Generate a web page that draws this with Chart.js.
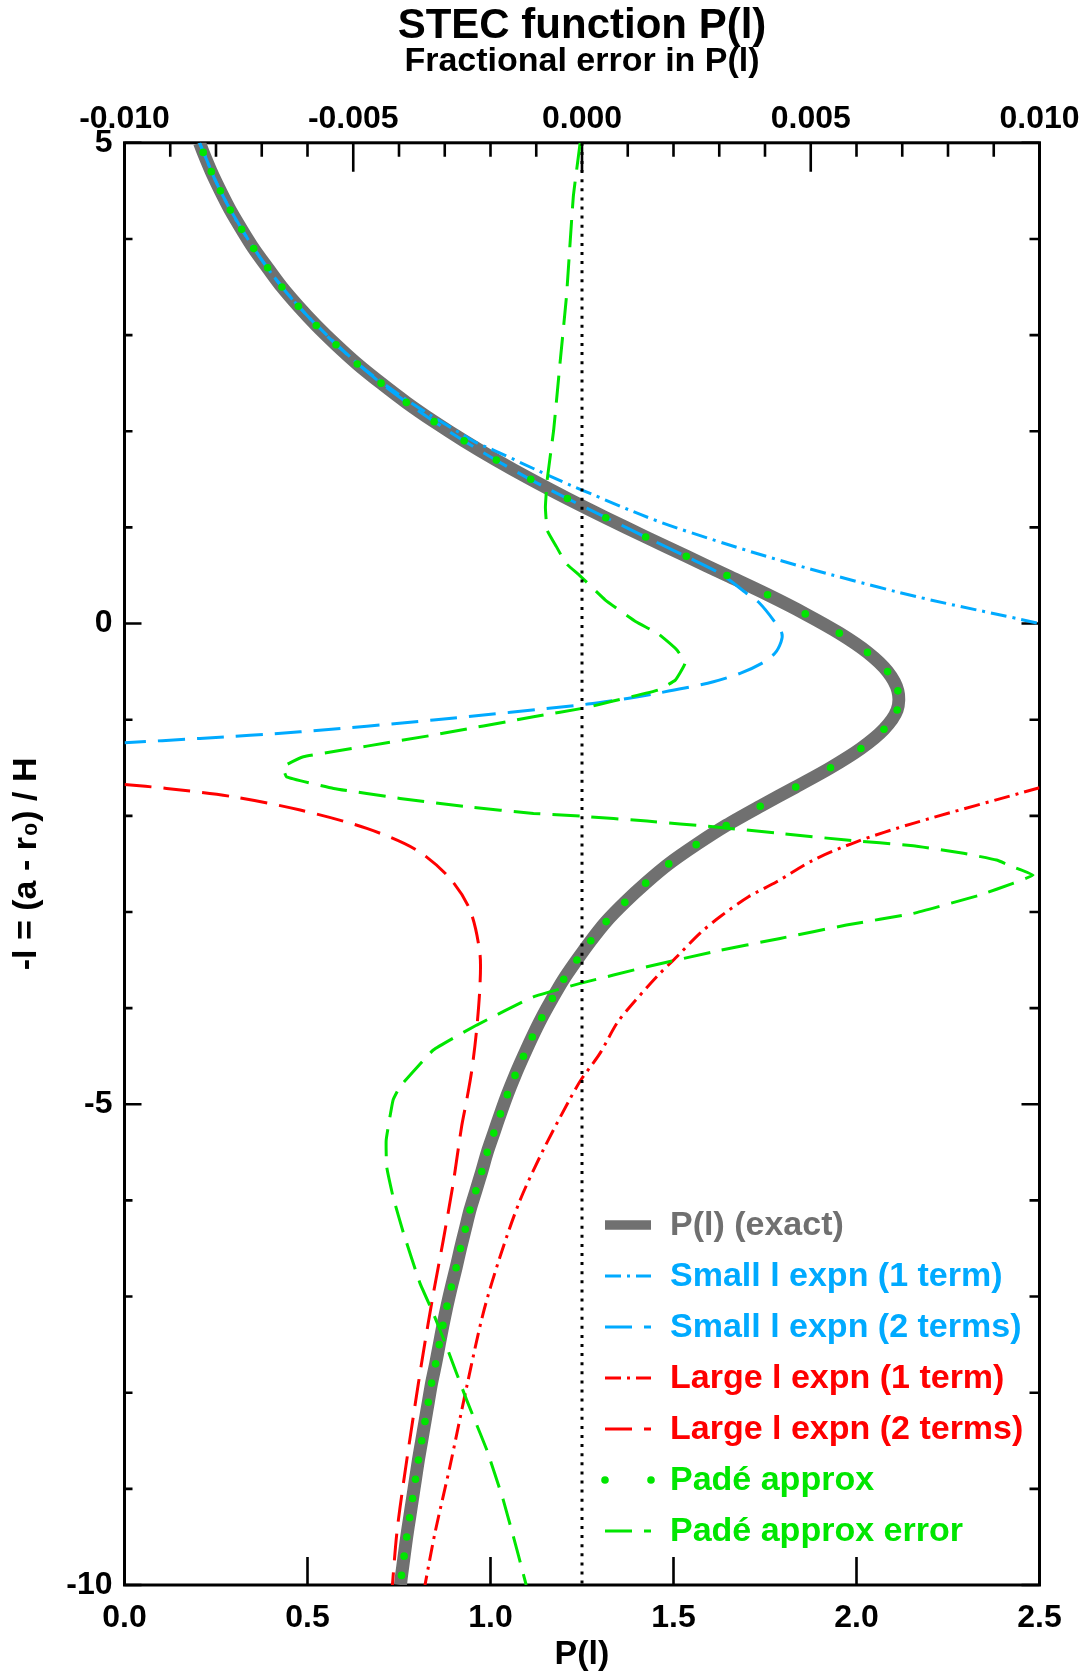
<!DOCTYPE html>
<html>
<head>
<meta charset="utf-8">
<title>STEC function P(l)</title>
<script src="https://cdn.jsdelivr.net/npm/chart.js@4.4.1/dist/chart.umd.min.js"></script>
<style>
  html, body { margin: 0; padding: 0; background: #ffffff; }
  #wrap { width: 1091px; height: 1675px; }
</style>
</head>
<body>
<div id="wrap"><canvas id="c" width="1091" height="1675"></canvas></div>
<script>
// ------------------------------------------------------------------
// Data.  y = -l = (a - r0)/H, x = P(l)
// ------------------------------------------------------------------
const lExact = [5.0, 4.9, 4.7, 4.5, 4.3, 4.1, 3.9, 3.7, 3.5, 3.3, 3.1, 2.9, 2.7, 2.5, 2.3, 2.1, 1.9, 1.7, 1.5, 1.3, 1.1, 0.9, 0.7, 0.5, 0.3, 0.1,
  -0.1, -0.3, -0.5, -0.7, -0.9, -1.1, -1.3, -1.5, -1.7, -1.9, -2.1, -2.3, -2.5, -2.7, -2.9, -3.1, -3.3, -3.5, -3.7, -3.9, -4.1, -4.3, -4.5, -4.7, -4.9,
  -5.1, -5.3, -5.5, -5.7, -5.9, -6.1, -6.3, -6.5, -6.7, -6.9, -7.1, -7.3, -7.5, -7.7, -7.9, -8.1, -8.3, -8.5, -8.7, -8.9, -9.1, -9.3, -9.5, -9.7, -9.9, -10.0];
const pExact = [0.205, 0.215, 0.237, 0.262, 0.289, 0.320, 0.353, 0.391, 0.430, 0.475, 0.524, 0.578, 0.636, 0.701, 0.770, 0.846, 0.928, 1.016, 1.110, 1.210, 1.315, 1.424, 1.535, 1.646, 1.757, 1.860,
  1.953, 2.030, 2.085, 2.113, 2.111, 2.075, 2.012, 1.929, 1.834, 1.737, 1.644, 1.562, 1.487, 1.424, 1.367, 1.316, 1.274, 1.236, 1.200, 1.169, 1.140, 1.114, 1.090, 1.067, 1.046,
  1.027, 1.009, 0.991, 0.976, 0.960, 0.944, 0.931, 0.918, 0.906, 0.893, 0.881, 0.870, 0.860, 0.850, 0.839, 0.830, 0.821, 0.812, 0.803, 0.795, 0.787, 0.779, 0.771, 0.764, 0.757, 0.754];

const lPade = [4.9, 4.7, 4.5, 4.3, 4.1, 3.9, 3.7, 3.5, 3.3, 3.1, 2.9, 2.7, 2.5, 2.3, 2.1, 1.9, 1.7, 1.5, 1.3, 1.1, 0.9, 0.7, 0.5, 0.3, 0.1,
  -0.1, -0.3, -0.5, -0.7, -0.9, -1.1, -1.3, -1.5, -1.7, -1.9, -2.1, -2.3, -2.5, -2.7, -2.9, -3.1, -3.3, -3.5, -3.7, -3.9, -4.1, -4.3, -4.5, -4.7, -4.9,
  -5.1, -5.3, -5.5, -5.7, -5.9, -6.1, -6.3, -6.5, -6.7, -6.9, -7.1, -7.3, -7.5, -7.7, -7.9, -8.1, -8.3, -8.5, -8.7, -8.9, -9.1, -9.3, -9.5, -9.7, -9.9];
const pPade = [0.215, 0.237, 0.262, 0.289, 0.320, 0.353, 0.391, 0.430, 0.475, 0.524, 0.578, 0.636, 0.701, 0.770, 0.846, 0.928, 1.016, 1.110, 1.210, 1.315, 1.424, 1.535, 1.646, 1.757, 1.860,
  1.953, 2.030, 2.085, 2.113, 2.111, 2.075, 2.012, 1.929, 1.834, 1.737, 1.644, 1.562, 1.487, 1.424, 1.367, 1.316, 1.274, 1.236, 1.200, 1.169, 1.140, 1.114, 1.090, 1.067, 1.046,
  1.027, 1.009, 0.991, 0.976, 0.960, 0.944, 0.931, 0.918, 0.906, 0.893, 0.881, 0.870, 0.860, 0.850, 0.839, 0.830, 0.821, 0.812, 0.803, 0.795, 0.787, 0.779, 0.771, 0.764, 0.757];

const lSmall1 = [5.0, 4.5, 4.0, 3.5, 3.0, 2.5, 1.907, 1.804, 1.388, 0.954, 0.382, 0.0];
const pSmall1 = [0.205, 0.262, 0.337, 0.431, 0.553, 0.706, 0.949, 1.008, 1.250, 1.541, 2.056, 2.500];

const lSmall2 = [5.0, 4.5, 4.0, 3.5, 3.0, 2.5, 2.0, 1.5, 1.0, 0.7, 0.52, 0.313, 0.209, 0.036, -0.102, -0.19, -0.31, -0.414, -0.518, -0.606, -0.674, -0.726, -0.786, -0.838, -1.004, -1.126, -1.195, -1.24];
const pSmall2 = [0.205, 0.262, 0.337, 0.430, 0.551, 0.701, 0.886, 1.108, 1.370, 1.533, 1.627, 1.700, 1.736, 1.773, 1.796, 1.794, 1.777, 1.741, 1.682, 1.609, 1.527, 1.454, 1.363, 1.266, 0.844, 0.480, 0.206, 0.0];

const lLarge1 = [-1.708, -2.078, -2.27, -2.46, -2.686, -2.842, -3.05, -3.223, -3.466, -3.674, -3.986, -4.159, -4.471, -4.748, -4.974, -5.476, -5.996, -6.586, -7.175, -7.938, -8.77, -9.463, -10.0];
const pLarge1 = [2.500, 2.155, 2.000, 1.882, 1.782, 1.705, 1.627, 1.572, 1.509, 1.454, 1.381, 1.345, 1.299, 1.247, 1.213, 1.144, 1.081, 1.026, 0.980, 0.935, 0.889, 0.848, 0.821];

const lLarge2 = [-1.673, -1.715, -1.802, -1.940, -2.131, -2.356, -2.650, -2.980, -3.430, -3.778, -4.228, -4.644, -4.956, -5.234, -5.823, -6.413, -6.967, -7.591, -8.250, -8.943, -9.463, -10.0];
const pLarge2 = [0.0, 0.115, 0.297, 0.480, 0.662, 0.798, 0.889, 0.944, 0.971, 0.971, 0.962, 0.949, 0.935, 0.921, 0.898, 0.871, 0.844, 0.816, 0.789, 0.762, 0.744, 0.732];

// Padé approximation fractional error (top axis)
const lPadeErr = [5.0, 4.44, 3.40, 2.71, 2.01, 1.50, 1.21, 0.97, 0.80, 0.625, 0.504, 0.244, 0.018, -0.104, -0.277, -0.415, -0.588, -0.692, -0.806, -0.874,
  -0.970, -1.160, -1.275, -1.386, -1.490, -1.594, -1.715, -1.819, -1.906, -1.975, -2.003, -2.055, -2.114, -2.183, -2.252, -2.311, -2.390, -2.460, -2.530, -2.616,
  -2.702, -2.824, -3.015, -3.136, -3.275, -3.414, -3.570, -3.743, -3.882, -4.176, -4.436, -4.818, -4.956, -5.372, -5.650, -5.962, -6.343, -6.863, -7.175, -7.522,
  -8.077, -8.597, -9.117, -9.637, -10.0];
const ePadeErr = [-0.00004, -0.00019, -0.00034, -0.00048, -0.00062, -0.00076, -0.00080, -0.00076, -0.00056, -0.00035, -0.00006, 0.00051, 0.00118, 0.00166, 0.00208, 0.00225, 0.00204, 0.00166, 0.00068, 0.00010,
  -0.00106, -0.00325, -0.00470, -0.00609, -0.00653, -0.00646, -0.00543, -0.00398, -0.00252, -0.00106, -0.00004, 0.00142, 0.00287, 0.00433, 0.00578, 0.00724, 0.00834, 0.00906, 0.00942, 0.00986,
  0.00942, 0.00870, 0.00724, 0.00578, 0.00433, 0.00287, 0.00142, -0.00004, -0.00106, -0.00230, -0.00325, -0.00398, -0.00413, -0.00428, -0.00427, -0.00413, -0.00390, -0.00354, -0.00325, -0.00296,
  -0.00252, -0.00208, -0.00172, -0.00142, -0.00122];

// zero fractional error reference (dotted line)
const eZero = [0, 0];
const lZero = [5, -10];

// tick labels
const ticksP = [0, 0.5, 1.0, 1.5, 2.0, 2.5];
const ticksErr = [-0.010, -0.005, 0.000, 0.005, 0.010];
const ticksL = [5, 0, -5, -10];

// ------------------------------------------------------------------
const FONT = "'Liberation Sans', Arial, Helvetica, sans-serif";
const GRAY = 'rgb(112,112,112)';
const BLUE = 'rgb(0,170,255)';
const RED = 'rgb(255,0,0)';
const GREEN = 'rgb(0,230,0)';
const DASHDOT = [16, 6, 3, 6];
const LONGDASH = [27, 12];

const pts = (xs, ys) => xs.map((x, i) => ({ x: x, y: ys[i] }));

const datasets = [
  { label: 'P(l) (exact)', data: pts(pExact, lExact), xAxisID: 'x', showLine: true,
    borderColor: GRAY, borderWidth: 13, pointRadius: 0, tension: 0.3, order: 9, legendRow: 0, legendWidth: 9.5 },
  { label: 'Small l expn (1 term)', data: pts(pSmall1, lSmall1), xAxisID: 'x', showLine: true,
    borderColor: BLUE, borderWidth: 3, borderDash: DASHDOT, pointRadius: 0, tension: 0.4, order: 4, legendRow: 1 },
  { label: 'Small l expn (2 terms)', data: pts(pSmall2, lSmall2), xAxisID: 'x', showLine: true,
    borderColor: BLUE, borderWidth: 3, borderDash: LONGDASH, pointRadius: 0, tension: 0.3, order: 4, legendRow: 2 },
  { label: 'Large l expn (1 term)', data: pts(pLarge1, lLarge1), xAxisID: 'x', showLine: true,
    borderColor: RED, borderWidth: 3, borderDash: DASHDOT, pointRadius: 0, tension: 0.3, order: 4, legendRow: 3 },
  { label: 'Large l expn (2 terms)', data: pts(pLarge2, lLarge2), xAxisID: 'x', showLine: true,
    borderColor: RED, borderWidth: 3, borderDash: LONGDASH, pointRadius: 0, tension: 0.3, order: 4, legendRow: 4 },
  { label: 'Padé approx', data: pts(pPade, lPade), xAxisID: 'x', showLine: false,
    borderColor: GREEN, backgroundColor: GREEN, pointBackgroundColor: GREEN, pointBorderWidth: 0,
    pointRadius: 3.8, order: 0, legendRow: 5 },
  { label: 'Padé approx error', data: pts(ePadeErr, lPadeErr), xAxisID: 'x2', showLine: true,
    borderColor: GREEN, borderWidth: 3, borderDash: LONGDASH, pointRadius: 0, tension: 0.1, order: 3, legendRow: 6 },
  { label: 'zero error', data: pts(eZero, lZero), xAxisID: 'x2', showLine: true,
    borderColor: '#000', borderWidth: 3, borderDash: [3, 6.1], pointRadius: 0, order: 1 }
];
datasets.forEach(d => { d.yAxisID = 'y'; d.clip = 0; });

// Axis frame with IDL-style inward ticks
const axesPlugin = {
  id: 'idlAxes',
  beforeDatasetsDraw(chart) {
    const { ctx, chartArea: a, scales } = chart;
    const x = scales.x, x2 = scales.x2, y = scales.y;
    ctx.save();
    ctx.strokeStyle = '#000';
    ctx.lineWidth = 2.6;
    ctx.setLineDash([]);
    ctx.beginPath();
    ticksP.forEach(v => {
      const px = x.getPixelForValue(v);
      ctx.moveTo(px, a.bottom); ctx.lineTo(px, a.bottom - 28);
    });
    const step = 0.001;
    for (let k = 0; k <= Math.round((x2.max - x2.min) / step); k++) {
      const v = x2.min + k * step;
      const px = x2.getPixelForValue(v);
      const len = (k % 5 === 0) ? 29 : 14;
      ctx.moveTo(px, a.top); ctx.lineTo(px, a.top + len);
    }
    for (let v = y.min; v <= y.max; v += 1) {
      const py = y.getPixelForValue(v);
      const major = Math.abs(v % 5) < 1e-9;
      ctx.moveTo(a.left, py); ctx.lineTo(a.left + (major ? 17 : 8), py);
      ctx.moveTo(a.right, py); ctx.lineTo(a.right - (major ? 18 : 10), py);
    }
    ctx.stroke();
    ctx.lineWidth = 3;
    ctx.strokeRect(a.left, a.top, a.right - a.left, a.bottom - a.top);
    ctx.restore();
  }
};

// IDL-style legend inside the plot, lower right
const legendPlugin = {
  id: 'idlLegend',
  afterDatasetsDraw(chart) {
    const { ctx, chartArea: a } = chart;
    const rows = chart.data.datasets.filter(d => d.legendRow !== undefined)
      .sort((p, q) => p.legendRow - q.legendRow);
    const x0 = a.left + 480.5, x1 = x0 + 46, tx = a.left + 545.5;
    const y0 = a.bottom - 360, dy = 51;
    ctx.save();
    ctx.font = 'bold 34px ' + FONT;
    ctx.textBaseline = 'middle';
    ctx.textAlign = 'left';
    rows.forEach((d, i) => {
      const yy = y0 + i * dy;
      const col = d.borderColor;
      if (d.showLine === false) {
        ctx.fillStyle = col;
        [x0, x1].forEach(px => { ctx.beginPath(); ctx.arc(px, yy, d.pointRadius, 0, Math.PI * 2); ctx.fill(); });
      } else {
        ctx.strokeStyle = col;
        ctx.lineWidth = d.legendWidth || d.borderWidth;
        ctx.setLineDash(d.borderDash || []);
        ctx.beginPath(); ctx.moveTo(x0, yy); ctx.lineTo(x1, yy); ctx.stroke();
      }
      ctx.setLineDash([]);
      ctx.fillStyle = col;
      ctx.fillText(d.label, tx, yy + 1);
    });
    ctx.restore();
  }
};

const tickFont = { family: FONT, size: 32, weight: 'bold' };

new Chart(document.getElementById('c'), {
  type: 'scatter',
  data: { datasets: datasets },
  options: {
    responsive: false,
    animation: false,
    devicePixelRatio: 1,
    events: [],
    layout: { padding: { left: 0, right: 51.5, top: 0, bottom: 0 } },
    plugins: {
      legend: { display: false },
      tooltip: { enabled: false },
      title: {
        display: true, text: 'STEC function P(l)', fullSize: false, color: '#000',
        font: { family: FONT, size: 42, weight: 'bold', lineHeight: 0.8 },
        padding: { top: 10, bottom: 0 }
      }
    },
    scales: {
      x: {
        type: 'linear', position: 'bottom', min: 0, max: 2.5,
        afterBuildTicks: s => { s.ticks = ticksP.map(v => ({ value: v })); },
        afterFit: s => { s.height = 90; },
        grid: { display: false, drawTicks: false }, border: { display: false },
        ticks: { font: tickFont, color: '#000', padding: 14, maxRotation: 0, autoSkip: false,
                 callback: v => Number(v).toFixed(1) },
        title: { display: true, text: 'P(l)', color: '#000',
                 font: { family: FONT, size: 34, weight: 'bold', lineHeight: 1.2 }, padding: { top: 0, bottom: 0 } }
      },
      x2: {
        type: 'linear', position: 'top', min: -0.01, max: 0.01,
        afterBuildTicks: s => { s.ticks = ticksErr.map(v => ({ value: v })); },
        afterFit: s => { s.height = 99.2; },
        grid: { display: false, drawTicks: false }, border: { display: false },
        ticks: { font: tickFont, color: '#000', padding: 4, maxRotation: 0, autoSkip: false,
                 callback: v => Number(v).toFixed(3) },
        title: { display: true, text: 'Fractional error in P(l)', color: '#000',
                 font: { family: FONT, size: 34, weight: 'bold', lineHeight: 0.8 }, padding: { top: 4, bottom: 0 } }
      },
      y: {
        type: 'linear', position: 'left', min: -10, max: 5,
        afterBuildTicks: s => { s.ticks = ticksL.map(v => ({ value: v })); },
        afterFit: s => { s.width = 124.5; },
        grid: { display: false, drawTicks: false }, border: { display: false },
        ticks: { font: tickFont, color: '#000', padding: 12, autoSkip: false,
                 callback: v => String(v) },
        title: { display: true, text: '-l = (a - r\u2080) / H', color: '#000',
                 font: { family: FONT, size: 34, weight: 'bold', lineHeight: 1 }, padding: { top: 10, bottom: 0 } }
      }
    }
  },
  plugins: [axesPlugin, legendPlugin]
});
</script>
</body>
</html>
